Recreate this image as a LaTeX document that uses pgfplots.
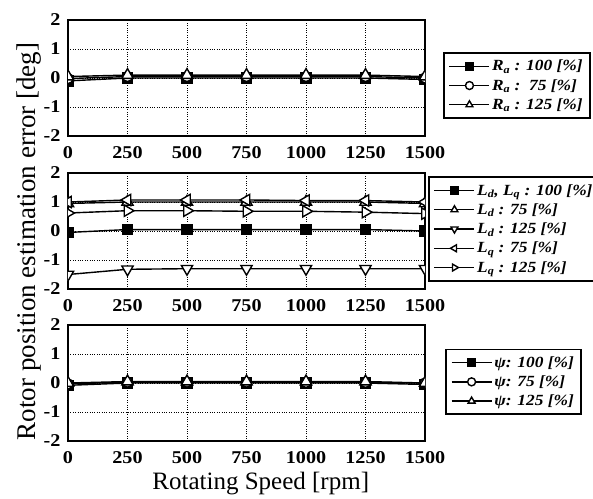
\documentclass[border=0pt]{standalone}
\usepackage{fontspec}
\setmainfont{Liberation Serif}
\newfontfamily\widefont[FakeStretch=1.12]{Liberation Serif}
\usepackage{pgfplots}
\pgfplotsset{compat=1.18}

\pgfplotsset{
  panel/.style={
    width=357pt, height=116pt, scale only axis,
    xmin=0, xmax=1500, ymin=-2, ymax=2,
    xtick={0,250,500,750,1000,1250,1500}, ytick={-2,-1,0,1,2},
    grid=major, major grid style={black, dotted, line width=0.7pt},
    major tick length=0pt,
    axis line style={line width=1.3pt},
    tick label style={font=\widefont\fontsize{18}{18}\selectfont\bfseries},
    /pgf/number format/assume math mode=true,
    /pgf/number format/1000 sep={},
    xticklabel style={yshift=-7pt},
    yticklabel style={xshift=-4pt},
    clip marker paths=true,
    legend cell align=left,
    legend style={draw=black, line width=1.8pt, anchor=west,
      font=\widefont\fontsize{15.5}{17}\selectfont\bfseries\itshape,
      row sep=3pt, inner xsep=5pt, inner ysep=5pt},
    legend image code/.code={
      \draw[mark repeat=2, mark phase=2, mark size=4pt] plot coordinates {(0pt,0pt) (20pt,0pt) (40pt,0pt)};},
  },
  ser/.style={black, line width=1.4pt},
  sq/.style={ser, mark=square*, mark size=5pt, mark options={fill=black, solid}},
  ci/.style={ser, mark=*, mark size=5pt, mark options={fill=white, solid}},
  tu/.style={ser, mark=triangle*, mark size=6.5pt, mark options={fill=white, solid}},
  td/.style={ser, mark=triangle*, mark size=6.5pt, mark options={fill=white, solid, rotate=180}},
  tl/.style={ser, mark=triangle*, mark size=6.5pt, mark options={fill=white, solid, rotate=90}},
  tr/.style={ser, mark=triangle*, mark size=6.5pt, mark options={fill=white, solid, rotate=-90}},
}

\begin{document}
\begin{tikzpicture}
\useasboundingbox (-68pt,20pt) rectangle (525pt,-478pt);
% panel 1: R_a
\begin{axis}[panel, name=p1, at={(0pt,0pt)}, anchor=north west,
    legend style={at={(1.05,0.435)}}]
\addplot[sq] coordinates {(0,-0.1) (250,0.0) (500,0.0) (750,0.0) (1000,0.0) (1250,0.0) (1500,-0.05)};
\addplot[ci] coordinates {(0,-0.02) (250,0.05) (500,0.05) (750,0.05) (1000,0.05) (1250,0.05) (1500,0.0)};
\addplot[tu] coordinates {(0,0.05) (250,0.1) (500,0.1) (750,0.1) (1000,0.1) (1250,0.1) (1500,0.05)};
\legend{R\textsubscript{a} : 100 [\%], R\textsubscript{a} :\ \ 75 [\%], R\textsubscript{a} : 125 [\%]}
\end{axis}

% panel 2: L_d, L_q
\begin{axis}[panel, name=p2, at={(0pt,-153pt)}, anchor=north west,
    legend style={at={(1.008,0.517)}},
    ylabel={Rotor position estimation error [deg]},
    ylabel shift=-5pt,
    ylabel style={at={(ticklabel cs:0.41)}, font=\fontsize{27}{27}\selectfont}]
\addplot[sq] coordinates {(0,-0.05) (250,0.05) (500,0.05) (750,0.05) (1000,0.05) (1250,0.05) (1500,0.0)};
\addplot[tu] coordinates {(0,0.95) (250,1.0) (500,1.0) (750,1.0) (1000,1.0) (1250,1.0) (1500,0.95)};
\addplot[td] coordinates {(0,-1.5) (250,-1.32) (500,-1.3) (750,-1.3) (1000,-1.3) (1250,-1.3) (1500,-1.3)};
\addplot[tl] coordinates {(0,1.0) (250,1.07) (500,1.07) (750,1.07) (1000,1.05) (1250,1.05) (1500,1.0)};
\addplot[tr] coordinates {(0,0.62) (250,0.7) (500,0.7) (750,0.68) (1000,0.68) (1250,0.65) (1500,0.6)};
\legend{{L\textsubscript{d}, L\textsubscript{q} : 100 [\%]}, L\textsubscript{d} : 75 [\%], L\textsubscript{d} : 125 [\%], L\textsubscript{q} : 75 [\%], L\textsubscript{q} : 125 [\%]}
\end{axis}

% panel 3: psi
\begin{axis}[panel, name=p3, at={(0pt,-305pt)}, anchor=north west,
    legend style={at={(1.056,0.51)}},
    xlabel={Rotating Speed [rpm]},
    xlabel style={at={(ticklabel cs:0.54)}, font=\fontsize{25}{25}\selectfont, yshift=-2pt}]
\addplot[sq] coordinates {(0,-0.08) (250,0.0) (500,0.0) (750,0.0) (1000,0.0) (1250,0.0) (1500,-0.05)};
\addplot[ci] coordinates {(0,-0.03) (250,0.03) (500,0.03) (750,0.03) (1000,0.02) (1250,0.02) (1500,0.0)};
\addplot[tu] coordinates {(0,0.0) (250,0.05) (500,0.05) (750,0.05) (1000,0.05) (1250,0.05) (1500,0.0)};
\legend{ψ: 100 [\%], ψ: 75 [\%], ψ: 125 [\%]}
\end{axis}
\end{tikzpicture}
\end{document}
